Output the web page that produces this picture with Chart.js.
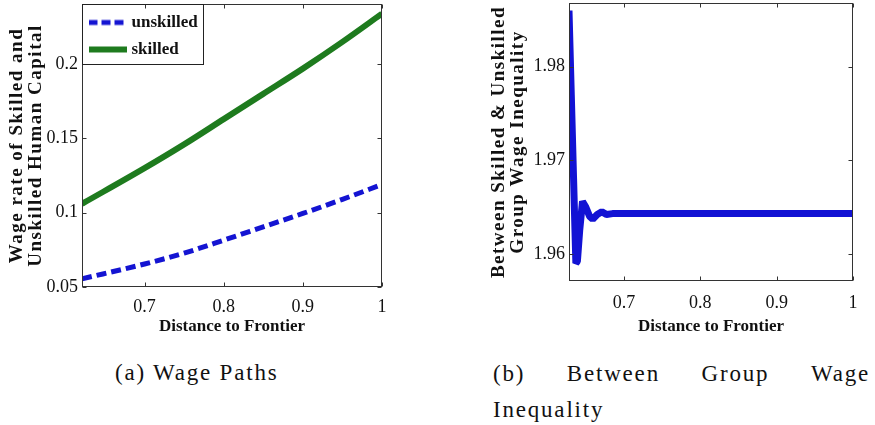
<!DOCTYPE html>
<html>
<head>
<meta charset="utf-8">
<script src="https://cdn.jsdelivr.net/npm/chart.js@4.4.1/dist/chart.umd.min.js"></script>
<style>
body { margin: 0; background: #fff; }
#page { position: relative; width: 875px; height: 425px; overflow: hidden; font-family: "Liberation Serif", serif; color: #111; }
canvas { position: absolute; top: 0; }
.cap { position: absolute; font-size: 23px; line-height: 26px; letter-spacing: 1.8px; white-space: nowrap; }
#capB1 { display: flex; justify-content: space-between; width: 377px; }
</style>
</head>
<body>
<div id="page">
  <canvas id="wage-chart" width="400" height="340" style="left:0"></canvas>
  <canvas id="gap-chart" width="395" height="340" style="left:480px"></canvas>
  <div class="cap" style="left:115px; top:360px">(a) Wage Paths</div>
  <div class="cap" id="capB1" style="left:493px; top:361px"><span>(b)</span><span>Between</span><span>Group</span><span>Wage</span></div>
  <div class="cap" style="left:493px; top:397px">Inequality</div>
</div>
<script>
// (a) wage paths against distance to frontier
var distance = [0.621, 0.7, 0.75, 0.8, 0.85, 0.9, 0.95, 1.0];
var unskilledWage = [0.0555, 0.0655, 0.0728, 0.0815, 0.0905, 0.0995, 0.109, 0.119];
var skilledWage = [0.106, 0.130, 0.146, 0.163, 0.180, 0.197, 0.215, 0.234];

// (b) skilled / unskilled wage ratio
var gapDistance = [0.628, 0.631, 0.634, 0.637, 0.639, 0.642, 0.6457, 0.650, 0.655, 0.659, 0.665, 0.671, 0.677, 0.685, 1.0];
var wageGap = [1.9860, 1.9770, 1.9680, 1.9590, 1.9592, 1.9625, 1.9656, 1.9650, 1.9640, 1.9637, 1.9642, 1.9645, 1.9642, 1.9643, 1.9643];

Chart.defaults.font.family = '"Liberation Serif", "Times New Roman", serif';
Chart.defaults.color = '#111';

function points(xs, ys) {
    return xs.map(function (x, i) { return {x: x, y: ys[i]}; });
}

function tickText(v) {
    return String(+v.toFixed(2));
}

// little line sample for the legend (keeps the dash)
function lineSample(color, width, dash) {
    var c = document.createElement('canvas');
    c.width = 38;
    c.height = 8;
    var g = c.getContext('2d');
    g.strokeStyle = color;
    g.lineWidth = width;
    g.setLineDash(dash);
    g.beginPath();
    g.moveTo(0, 4);
    g.lineTo(38, 4);
    g.stroke();
    return c;
}

// matlab style box with inward ticks, plus letter-spaced y title
var frame = {
    id: 'frame',
    beforeDraw: function (chart) {
        var s = chart.scales.y;
        if (!s._spaced) {
            var orig = s.drawTitle;
            s.drawTitle = function () {
                this.ctx.save();
                this.ctx.letterSpacing = '1.5px';
                orig.call(this);
                this.ctx.restore();
            };
            s._spaced = true;
        }
    },
    afterDraw: function (chart) {
        var ctx = chart.ctx;
        var a = chart.chartArea;
        var l = Math.round(a.left) + 0.5, r = Math.round(a.right) - 0.5;
        var t = Math.round(a.top) + 0.5, b = Math.round(a.bottom) - 0.5;
        ctx.save();
        ctx.strokeStyle = '#333';
        ctx.lineWidth = 1;
        ctx.strokeRect(l, t, r - l, b - t);
        ctx.beginPath();
        chart.scales.x.ticks.forEach(function (tk) {
            var px = Math.round(chart.scales.x.getPixelForValue(tk.value)) + 0.5;
            ctx.moveTo(px, b); ctx.lineTo(px, b - 4);
            ctx.moveTo(px, t); ctx.lineTo(px, t + 4);
        });
        chart.scales.y.ticks.forEach(function (tk) {
            var py = Math.round(chart.scales.y.getPixelForValue(tk.value)) + 0.5;
            ctx.moveTo(l, py); ctx.lineTo(l + 4, py);
            ctx.moveTo(r, py); ctx.lineTo(r - 4, py);
        });
        ctx.stroke();
        ctx.restore();
    }
};

var legendBox = {
    id: 'legendBox',
    afterDraw: function (chart) {
        var ctx = chart.ctx;
        var a = chart.chartArea;
        var right = 0, bottom = 0;
        chart.legend.legendHitBoxes.forEach(function (hb) {
            right = Math.max(right, hb.left + hb.width);
            bottom = Math.max(bottom, hb.top + hb.height);
        });
        ctx.save();
        ctx.strokeStyle = '#222';
        ctx.lineWidth = 1;
        ctx.strokeRect(Math.round(a.left) + 0.5, Math.round(a.top) + 0.5, Math.round(right + 5 - a.left), Math.round(bottom + 6 - a.top));
        ctx.restore();
    }
};

function xScale(min, tickPad, height) {
    return {
        type: 'linear',
        min: min,
        max: 1,
        grid: {display: false, drawTicks: false},
        border: {display: false},
        ticks: {stepSize: 0.1, includeBounds: false, padding: tickPad, font: {size: 18}, callback: tickText, maxRotation: 0},
        title: {display: true, text: 'Distance to Frontier', font: {size: 17, weight: 'bold'}, padding: {top: 0, bottom: 3}},
        afterFit: function (s) { s.height = height; }
    };
}

function yScale(min, max, step, title, titlePad, width) {
    return {
        type: 'linear',
        min: min,
        max: max,
        grid: {display: false, drawTicks: false},
        border: {display: false},
        ticks: {stepSize: step, includeBounds: false, padding: 4, font: {size: 18}, callback: tickText},
        title: {display: true, text: title, font: {size: 19, weight: 'bold', lineHeight: 1.0}, padding: {top: titlePad, bottom: 0}},
        afterFit: function (s) {
            s.width = width;
            s.paddingTop = 0;
            s.paddingBottom = 0;
        }
    };
}

new Chart(document.getElementById('wage-chart').getContext('2d'), {
    type: 'line',
    data: {
        datasets: [{
            label: 'unskilled',
            data: points(distance, unskilledWage),
            borderColor: '#1414d2',
            backgroundColor: '#1414d2',
            borderWidth: 5,
            borderDash: [10, 5],
            pointRadius: 0,
            pointStyle: lineSample('#1414d2', 5, [9, 4]),
            cubicInterpolationMode: 'monotone',
            fill: false
        }, {
            label: 'skilled',
            data: points(distance, skilledWage),
            borderColor: '#1e7b1e',
            backgroundColor: '#1e7b1e',
            borderWidth: 6,
            pointRadius: 0,
            pointStyle: lineSample('#1e7b1e', 6, []),
            cubicInterpolationMode: 'monotone',
            fill: false
        }]
    },
    options: {
        responsive: false,
        animation: false,
        devicePixelRatio: 1,
        layout: {padding: {top: 4, right: 18, bottom: 0, left: 0}},
        plugins: {
            legend: {
                position: 'chartArea',
                align: 'start',
                title: {display: true, text: '', font: {size: 1, lineHeight: 1}, padding: {top: 3, bottom: 0}},
                labels: {
                    usePointStyle: true,
                    pointStyleWidth: 31,
                    padding: 10,
                    color: '#111',
                    font: {size: 17, weight: 'bold'}
                }
            },
            tooltip: {enabled: false}
        },
        scales: {
            x: xScale(0.621, 9, 53),
            y: yScale(0.05, 0.2405, 0.05, ['Wage rate of Skilled and', 'Unskilled Human Capital'], 7.5, 82)
        }
    },
    plugins: [frame, legendBox]
});

new Chart(document.getElementById('gap-chart').getContext('2d'), {
    type: 'line',
    data: {
        datasets: [{
            label: 'wage gap',
            data: points(gapDistance, wageGap),
            borderColor: '#1212d4',
            borderWidth: 7,
            borderJoinStyle: 'bevel',
            pointRadius: 0,
            tension: 0,
            fill: false
        }]
    },
    options: {
        responsive: false,
        animation: false,
        devicePixelRatio: 1,
        layout: {padding: {top: 3, right: 22, bottom: 0, left: 0}},
        plugins: {legend: {display: false}, tooltip: {enabled: false}},
        scales: {
            x: xScale(0.628, 11, 59),
            y: yScale(1.9571, 1.9868, 0.01, ['Between Skilled & Unskilled', 'Group Wage Inequality'], 10, 89)
        }
    },
    plugins: [frame]
});
</script>
</body>
</html>
